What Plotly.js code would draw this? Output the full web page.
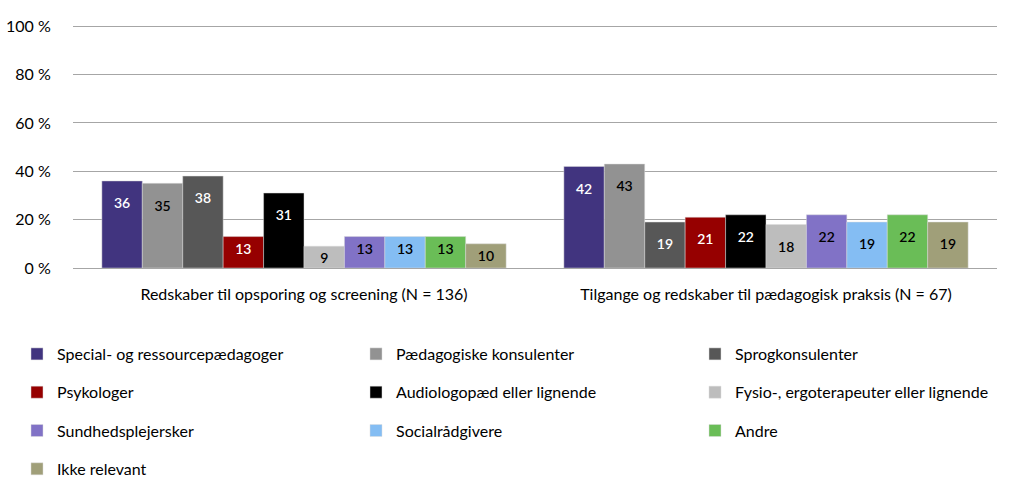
<!DOCTYPE html>
<html>
<head>
<meta charset="utf-8">
<script src="https://cdn.plot.ly/plotly-3.0.1.min.js"></script>
<style>html,body{margin:0;padding:0;background:#fff;}#chart{width:1018px;height:479px;}</style>
</head>
<body>
<div id="chart"></div>
<script>
var categories = ["Redskaber til opsporing og screening (N = 136)", "Tilgange og redskaber til pædagogisk praksis (N = 67)"];
var seriesNames = ["Special- og ressourcepædagoger", "Pædagogiske konsulenter", "Sprogkonsulenter",
  "Psykologer", "Audiologopæd eller lignende", "Fysio-, ergoterapeuter eller lignende",
  "Sundhedsplejersker", "Socialrådgivere", "Andre", "Ikke relevant"];
var values = [
  [36, 42],
  [35, 43],
  [38, 19],
  [13, 21],
  [31, 22],
  [9, 18],
  [13, 22],
  [13, 19],
  [13, 22],
  [10, 19]
];
var tickVals = [0, 20, 40, 60, 80, 100];
var tickText = ["0 %", "20 %", "40 %", "60 %", "80 %", "100 %"];

var colors = ["#41347f", "#929292", "#575757", "#960000", "#000000", "#bdbdbd", "#8172c6", "#84bdf3", "#6abd57", "#a09f79"];
var textColors = ["#ffffff", "#000000", "#ffffff", "#ffffff", "#ffffff", "#000000", "#000000", "#000000", "#000000", "#000000"];
var legendIds = ["legend", "legend2", "legend3", "legend", "legend2", "legend3", "legend", "legend2", "legend3", "legend"];
var FONT = "Lato, 'Noto Sans', sans-serif";

// label text: taller bars get a small spacer line so the number sits lower inside the bar
function labelFor(v) {
  return v >= 15 ? "<span style='font-size:6px'>\u00a0</span><br>" + v : String(v);
}

var traces = seriesNames.map(function (name, i) {
  return {
    type: "bar",
    name: name,
    x: categories,
    y: values[i],
    text: values[i].map(labelFor),
    textposition: "inside",
    insidetextanchor: "end",
    textangle: 0,
    constraintext: "none",
    insidetextfont: {family: FONT, size: 14, color: textColors[i], weight: 600},
    marker: {color: colors[i], line: {color: "rgba(220,220,220,0.8)", width: 0.6}},
    legend: legendIds[i],
    legendgroup: "g" + i,
    hoverinfo: "name+y"
  };
});

function legendAt(xPx) {
  return {
    orientation: "v",
    x: xPx / 1018, xref: "container", xanchor: "left",
    y: 1 - 337 / 479, yref: "container", yanchor: "top",
    tracegroupgap: 14.5,
    font: {family: FONT, size: 16, color: "#000"},
    bgcolor: "rgba(0,0,0,0)", borderwidth: 0,
    traceorder: "grouped"
  };
}

var layout = {
  width: 1018, height: 479,
  margin: {l: 73, r: 21, t: 25, b: 211, autoexpand: false},
  paper_bgcolor: "#fff", plot_bgcolor: "#fff",
  barmode: "group",
  bargap: 0.125,
  bargroupgap: 0,
  font: {family: FONT, size: 16, color: "#000"},
  showlegend: true,
  legend: legendAt(17),
  legend2: legendAt(356),
  legend3: legendAt(695),
  xaxis: {
    type: "category",
    tickangle: 0,
    automargin: false,
    showgrid: false, zeroline: false, showline: false,
    ticks: "outside", ticklen: 12, tickcolor: "rgba(0,0,0,0)",
    tickfont: {family: FONT, size: 16, color: "#000"}
  },
  yaxis: {
    range: [0, 100.5],
    automargin: false,
    tickvals: tickVals, ticktext: tickText,
    showgrid: true, gridcolor: "#a6a6a6", gridwidth: 1,
    zeroline: true, zerolinecolor: "#a6a6a6", zerolinewidth: 1,
    showline: false,
    ticks: "outside", ticklen: 18, tickcolor: "rgba(0,0,0,0)",
    tickfont: {family: FONT, size: 16, color: "#000"},
    fixedrange: true
  }
};

Plotly.newPlot("chart", traces, layout, {displayModeBar: false, staticPlot: true});
</script>
</body>
</html>
